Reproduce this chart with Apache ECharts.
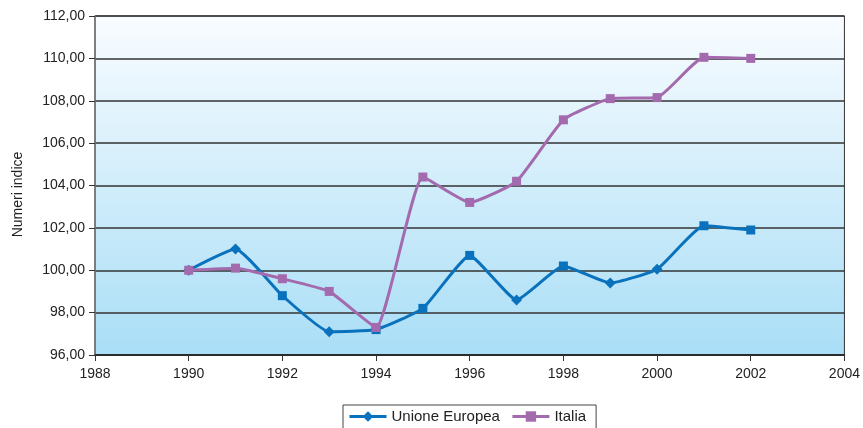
<!DOCTYPE html>
<html>
<head>
<meta charset="utf-8">
<script src="https://cdn.jsdelivr.net/npm/echarts@6/dist/echarts.min.js"></script>
<style>
  html, body { margin: 0; padding: 0; background: #fff; }
  #chart { width: 863px; height: 428px; }
</style>
</head>
<body>
<div id="chart"></div>
<script>
// dati
const anni = [1990, 1991, 1992, 1993, 1994, 1995, 1996, 1997, 1998, 1999, 2000, 2001, 2002];
const unioneEuropea = [100.0, 101.0, 98.8, 97.1, 97.2, 98.2, 100.7, 98.6, 100.2, 99.4, 100.05, 102.1, 101.9];
const italia = [100.0, 100.1, 99.6, 99.0, 97.3, 104.4, 103.2, 104.2, 107.1, 108.1, 108.15, 110.05, 110.0];
// simboli dei punti UE come nel grafico originale
const simboliUE = ["diamond", "diamond", "rect", "diamond", "rect", "rect", "rect", "diamond", "rect", "diamond", "diamond", "rect", "rect"];

const chart = echarts.init(document.getElementById("chart"));
const font = "Liberation Sans, Arial, sans-serif";

const option = {
  animation: false,
  grid: {
    left: 95,
    right: 18,
    top: 16,
    bottom: 73,
    show: true,
    borderColor: "#333",
    borderWidth: 1,
    backgroundColor: new echarts.graphic.LinearGradient(0, 0, 0, 1, [
      { offset: 0, color: "#f9fcff" },
      { offset: 1, color: "#a9def6" },
    ]),
  },
  legend: {
    top: 405,
    left: 343,
    itemWidth: 37,
    itemHeight: 13,
    itemGap: 11,
    padding: [4, 10, 8, 5],
    borderColor: "#444",
    borderWidth: 1,
    lineStyle: { width: 3 },
    textStyle: { fontFamily: font, fontSize: 15, color: "#222" },
    data: ["Unione Europea", "Italia"],
  },
  xAxis: {
    type: "value",
    min: 1988,
    max: 2004,
    interval: 2,
    splitLine: { show: false },
    axisLine: { lineStyle: { color: "#222", width: 1.5 } },
    axisTick: { show: true, length: 6, lineStyle: { color: "#333" } },
    axisLabel: {
      fontFamily: font,
      fontSize: 14,
      color: "#222",
      margin: 12,
      formatter: (v) => String(v),
    },
  },
  yAxis: {
    type: "value",
    min: 96,
    max: 112,
    interval: 2,
    name: "Numeri indice",
    nameLocation: "middle",
    nameGap: 70,
    nameTextStyle: { fontFamily: font, fontSize: 14, color: "#222", padding: [0, 0, 0, -18] },
    axisLine: { show: true, lineStyle: { color: "#777", width: 1.5 } },
    axisTick: { show: true, length: 6, lineStyle: { color: "#333" } },
    axisLabel: {
      fontFamily: font,
      fontSize: 14,
      color: "#222",
      margin: 10,
      formatter: (v) => v.toFixed(2).replace(".", ","),
    },
    splitLine: { lineStyle: { color: "#333", width: 1.5 } },
  },
  series: [
    {
      name: "Unione Europea",
      type: "line",
      smooth: 0.14,
      symbol: "diamond",
      symbolSize: 11,
      z: 2,
      lineStyle: { color: "#0a72bd", width: 3 },
      itemStyle: { color: "#0a72bd" },
      data: anni.map((a, i) => ({
        value: [a, unioneEuropea[i]],
        symbol: simboliUE[i],
        symbolSize: simboliUE[i] === "rect" ? 9 : 11,
      })),
    },
    {
      name: "Italia",
      type: "line",
      smooth: 0.14,
      symbol: "rect",
      symbolSize: 9,
      z: 3,
      lineStyle: { color: "#a46aae", width: 3 },
      itemStyle: { color: "#a46aae" },
      data: anni.map((a, i) => [a, italia[i]]),
    },
  ],
};

chart.setOption(option);
</script>
</body>
</html>
